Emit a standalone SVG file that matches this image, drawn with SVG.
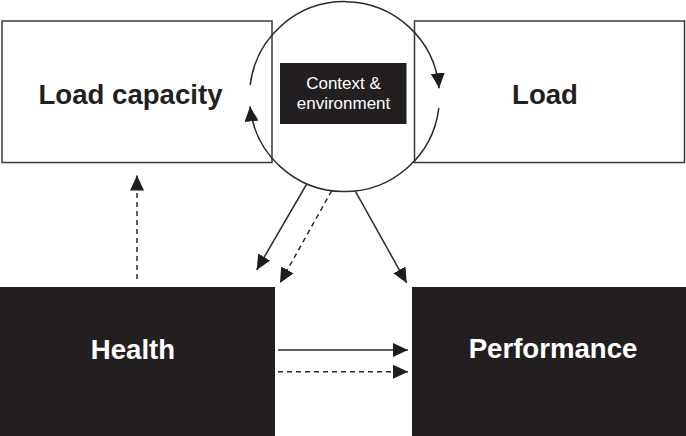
<svg xmlns="http://www.w3.org/2000/svg" width="686" height="436" viewBox="0 0 686 436">
<style>
.wbox{fill:#fff;stroke:#3a3a3a;stroke-width:1.5}
.bbox{fill:#231f20}
.lbl{font-family:"Liberation Sans",Arial,sans-serif;font-weight:bold;font-size:27.6px;text-anchor:middle}
.dark{fill:#231f20}
.light{fill:#fff}
.small{font-family:"Liberation Sans",Arial,sans-serif;font-size:17px;text-anchor:middle;fill:#fff}
.ln{fill:none;stroke:#2b2b2b;stroke-width:1.5}
.dash{stroke-dasharray:5 4}
</style>
<defs>
<marker id="ah" markerUnits="userSpaceOnUse" markerWidth="16" markerHeight="14" refX="15" refY="7" orient="auto">
<path d="M0,0 L15,7 L0,14 Z" fill="#1e1e1e"/>
</marker>
</defs>
<g id="load-capacity">
<rect class="wbox" x="2" y="21" width="270" height="141.5"/>
<text class="lbl dark" x="130.5" y="104">Load capacity</text>
</g>
<g id="load">
<rect class="wbox" x="414.5" y="21" width="270" height="141.5"/>
<text class="lbl dark" x="545" y="104">Load</text>
</g>
<g id="context">
<path class="ln" d="M438.8,108.1 A95,95 0 0 1 250.0,106.4" marker-end="url(#ah)"/>
<path class="ln" d="M250.2,84.9 A95,95 0 0 1 439.1,88.2" marker-end="url(#ah)"/>
<rect class="bbox" x="280" y="63" width="126.5" height="61"/>
<text class="small" x="343.5" y="88.5">Context &amp;</text>
<text class="small" x="343.5" y="109">environment</text>
</g>
<g id="health">
<rect class="bbox" x="0" y="287" width="275" height="149"/>
<text class="lbl light" x="133" y="359">Health</text>
</g>
<g id="performance">
<rect class="bbox" x="412" y="287" width="274" height="149"/>
<text class="lbl light" x="553" y="358">Performance</text>
</g>
<g id="connectors">
<line class="ln" x1="306.7" y1="184" x2="256.7" y2="270" marker-end="url(#ah)"/>
<line class="ln dash" x1="331.7" y1="190.7" x2="280" y2="283" marker-end="url(#ah)"/>
<line class="ln" x1="355" y1="190.7" x2="406.7" y2="283" marker-end="url(#ah)"/>
<line class="ln dash" x1="137" y1="279" x2="137" y2="175.5" marker-end="url(#ah)"/>
<line class="ln" x1="278" y1="350" x2="408" y2="350" marker-end="url(#ah)"/>
<line class="ln dash" x1="278" y1="371.7" x2="408" y2="371.7" marker-end="url(#ah)"/>
</g>
</svg>
